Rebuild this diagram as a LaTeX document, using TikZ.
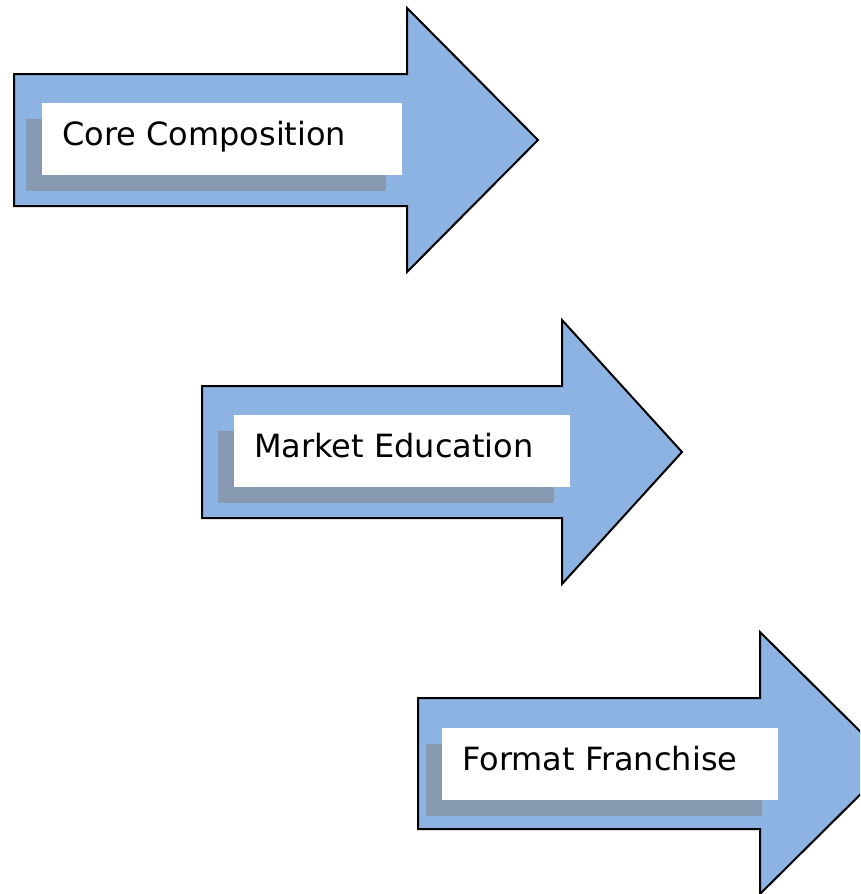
\documentclass[tikz,border=0pt]{standalone}
\usepackage{fontspec}
\setmainfont{DejaVu Sans}
\begin{document}
\begin{tikzpicture}[x=1pt,y=-1pt,
  arrowshape/.style={fill=arrowblue,draw=black,line width=2pt,line join=miter},
  shadowbox/.style={rectangle,fill=shadowgray,draw=none,inner sep=0pt,minimum width=360pt,minimum height=72pt,anchor=north west},
  whitebox/.style={rectangle,fill=white,draw=none,inner sep=0pt,minimum width=360pt,minimum height=72pt,anchor=north west},
  label/.style={anchor=base west,inner sep=0pt,font=\fontsize{32}{38}\selectfont}]
\definecolor{arrowblue}{HTML}{8DB3E2}
\definecolor{shadowgray}{HTML}{8899B2}
\useasboundingbox (0,0) rectangle (860,894);
\clip (0,0) rectangle (860,894);
% arrow 1
\draw[arrowshape] (14,74) -- (407,74) -- (407,8) -- (538,140) -- (407,272) -- (407,206) -- (14,206) -- cycle;
\node[shadowbox] (s1) at (26,119) {};
\node[whitebox] (w1) at (42,103) {};
\node[label] (t1) at (62,145) {Core Composition};
% arrow 2
\draw[arrowshape] (202,386) -- (562,386) -- (562,320) -- (682,452) -- (562,584) -- (562,518) -- (202,518) -- cycle;
\node[shadowbox,minimum width=336pt] (s2) at (218,431) {};
\node[whitebox,minimum width=336pt] (w2) at (234,415) {};
\node[label] (t2) at (254,457) {Market Education};
% arrow 3
\draw[arrowshape] (418,698) -- (760,698) -- (760,632) -- (892,763) -- (760,894) -- (760,829) -- (418,829) -- cycle;
\node[shadowbox,minimum width=336pt] (s3) at (426,744) {};
\node[whitebox,minimum width=336pt] (w3) at (442,728) {};
\node[label] (t3) at (462,770) {Format Franchise};
\end{tikzpicture}
\end{document}
